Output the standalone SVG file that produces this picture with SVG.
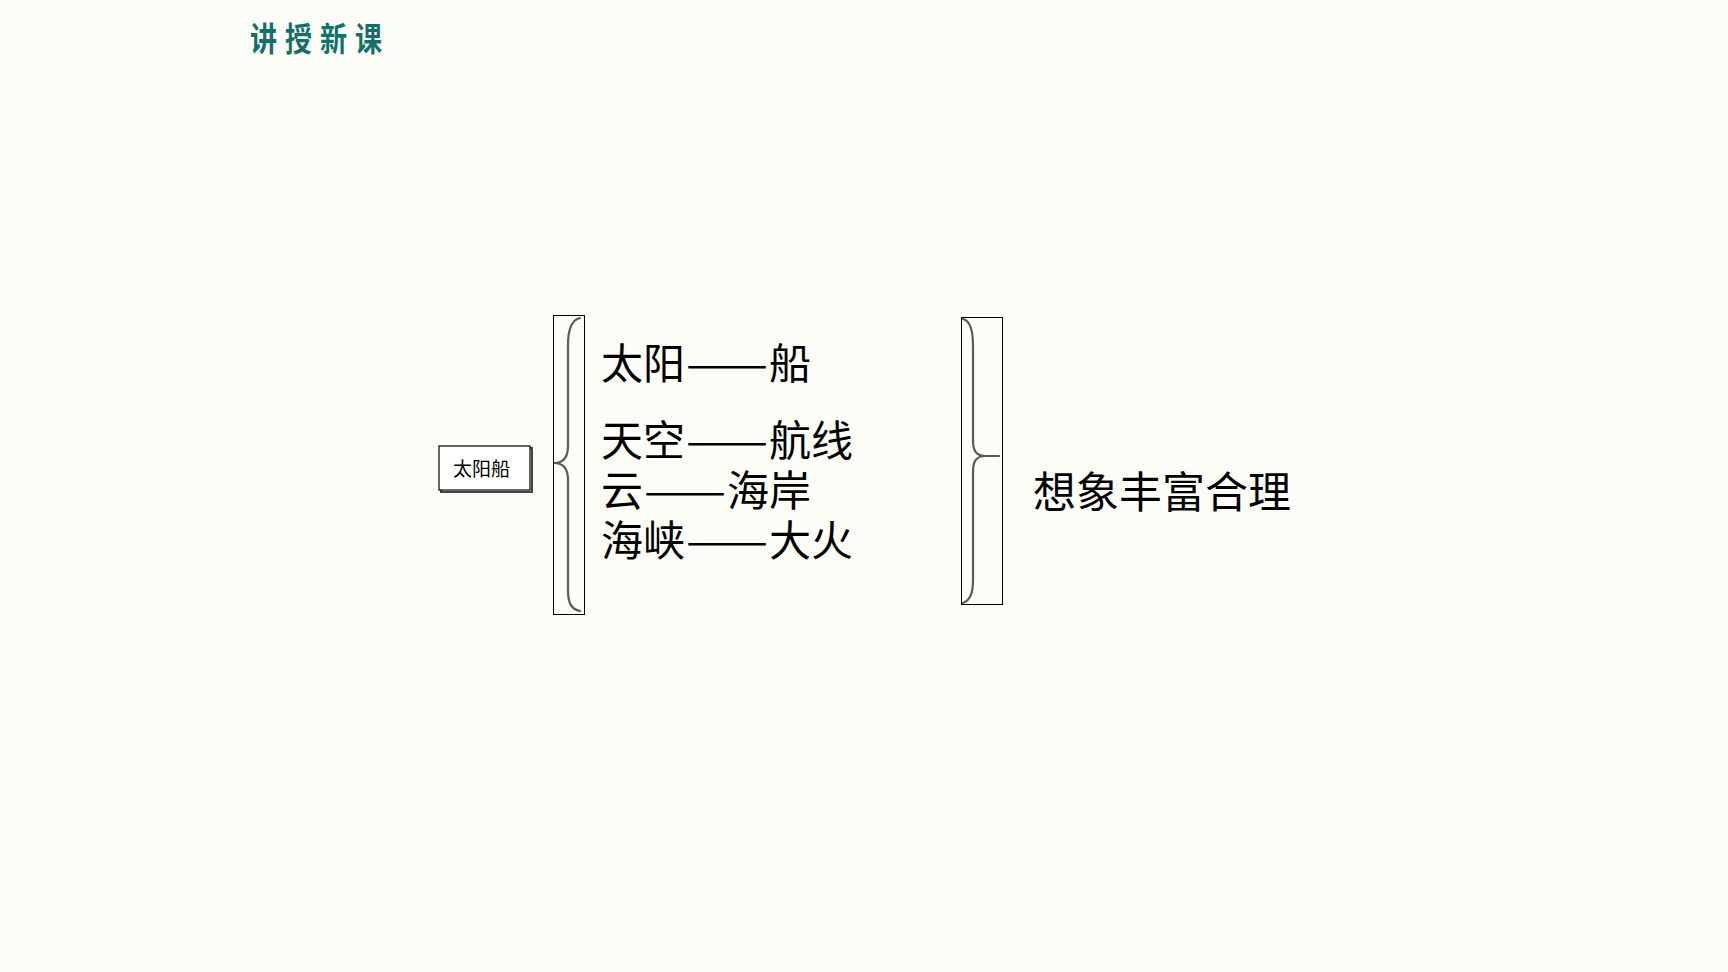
<svg xmlns="http://www.w3.org/2000/svg" width="1728" height="972" viewBox="0 0 1728 972">
<style>
.t{font-family:"Noto Sans CJK SC","Noto Sans CJK JP",sans-serif;fill:#000}
.big{font-size:42px}
.box{fill:#ffffff;stroke:#000;stroke-width:1.2}
.brace{fill:none;stroke:#5a5a5a;stroke-width:2.2;stroke-linecap:round}
</style>
<rect width="1728" height="972" fill="#fdfdf7"/>
<g id="title">
<text class="t" transform="scale(0.82,1)" x="305" y="51" font-size="33" font-weight="bold" letter-spacing="9.7" style="fill:#15706c">讲授新课</text>
</g>
<g id="node-source">
<rect x="441" y="448" width="91" height="44" fill="none" stroke="#444" stroke-width="2"/>
<rect class="box" x="439" y="446" width="91" height="44"/>
<text class="t" x="453" y="476" font-size="19">太阳船</text>
</g>
<g id="node-pairs">
<text class="t big" y="379"><tspan x="601">太阳</tspan><tspan x="686" textLength="82" lengthAdjust="spacingAndGlyphs">——</tspan><tspan x="769">船</tspan></text>
<text class="t big" y="456"><tspan x="601">天空</tspan><tspan x="686" textLength="82" lengthAdjust="spacingAndGlyphs">——</tspan><tspan x="769">航线</tspan></text>
<text class="t big" y="506"><tspan x="601">云</tspan><tspan x="644" textLength="82" lengthAdjust="spacingAndGlyphs">——</tspan><tspan x="727">海岸</tspan></text>
<text class="t big" y="556"><tspan x="601">海峡</tspan><tspan x="686" textLength="82" lengthAdjust="spacingAndGlyphs">——</tspan><tspan x="769">大火</tspan></text>
</g>
<g id="node-result">
<text class="t" x="1033" y="508" font-size="43">想象丰富合理</text>
</g>
<g id="connectors">
<rect x="553.5" y="315.5" width="31" height="299" fill="none" stroke="#000" stroke-width="1"/>
<path class="brace" d="M580,318 C571,320 568,330 568,345 L568,446 C568,457 563,463 554,463 C563,463 568,469 568,480 L568,590 C568,603 571,609 580,611"/>
<rect x="961.5" y="317.5" width="41" height="287" fill="none" stroke="#000" stroke-width="1"/>
<path class="brace" d="M963,319 C970,321 973,330 973,345 L973,440 C973,451 976,456 986,456 L999,456 M986,456 C976,456 973,461 973,472 L973,580 C973,594 970,600 963,603"/>
</g>
</svg>
